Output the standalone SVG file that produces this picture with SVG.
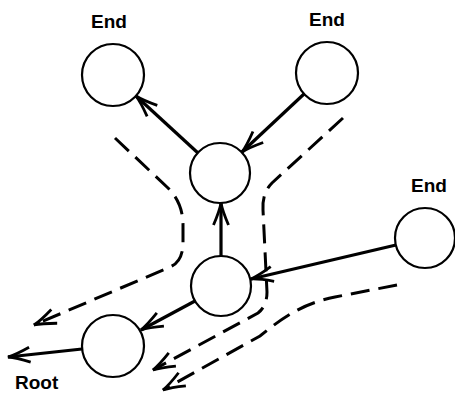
<svg xmlns="http://www.w3.org/2000/svg" width="455" height="395" viewBox="0 0 455 395">
<style>
.node circle{fill:#fff;stroke:#000;stroke-width:2.2}
.lbl{font-family:"Liberation Sans",Arial,sans-serif;font-weight:bold;font-size:19px;fill:#000}
.solid{stroke:#000;stroke-width:3.2;fill:none;marker-end:url(#ah)}
.dash{stroke:#000;stroke-width:3;fill:none;stroke-dasharray:19 9;marker-end:url(#ah)}
</style>
<defs>
<marker id="ah" markerUnits="userSpaceOnUse" viewBox="-26 -12 30 24" markerWidth="30" markerHeight="24" refX="0" refY="0" orient="auto" overflow="visible">
<path d="M-22,-7.5 Q-8,-1.5 0,0 Q-8,1.5 -22,7.5" fill="none" stroke="#000" stroke-width="2.8" stroke-dasharray="none"/>
</marker>
</defs>
<rect width="455" height="395" fill="#fff"/>
<g id="connectors">
<line class="solid" x1="198" y1="153" x2="136" y2="96"/>
<line class="solid" x1="304" y1="94" x2="242" y2="152"/>
<line class="solid" x1="221" y1="256" x2="221" y2="203"/>
<line class="solid" x1="396" y1="245" x2="251" y2="279"/>
<line class="solid" x1="195" y1="301" x2="141" y2="330"/>
<line class="solid" x1="82" y1="349" x2="8" y2="357"/>
<path class="dash" d="M115,138 L168,188 Q183,203 183,225 L183,245 Q182,262 170,267 L34,325"/>
<path class="dash" d="M343,118 L272,183 Q262,193 263,210 L267,292 Q267,306 258,313 L153,370"/>
<path class="dash" d="M397,285 L335,297 C300,304 280,320 260,336 L163,390"/>
</g>
<g id="end1" class="node"><circle cx="113" cy="75" r="31"/><text class="lbl" x="109" y="28" text-anchor="middle">End</text></g>
<g id="end2" class="node"><circle cx="327" cy="73" r="31"/><text class="lbl" x="327" y="26" text-anchor="middle">End</text></g>
<g id="mid" class="node"><circle cx="220" cy="173" r="30"/></g>
<g id="end3" class="node"><circle cx="425" cy="238" r="30"/><text class="lbl" x="429" y="192" text-anchor="middle">End</text></g>
<g id="lower" class="node"><circle cx="221" cy="286" r="30"/></g>
<g id="root" class="node"><circle cx="113" cy="346" r="31"/><text class="lbl" x="15" y="389">Root</text></g>
</svg>
